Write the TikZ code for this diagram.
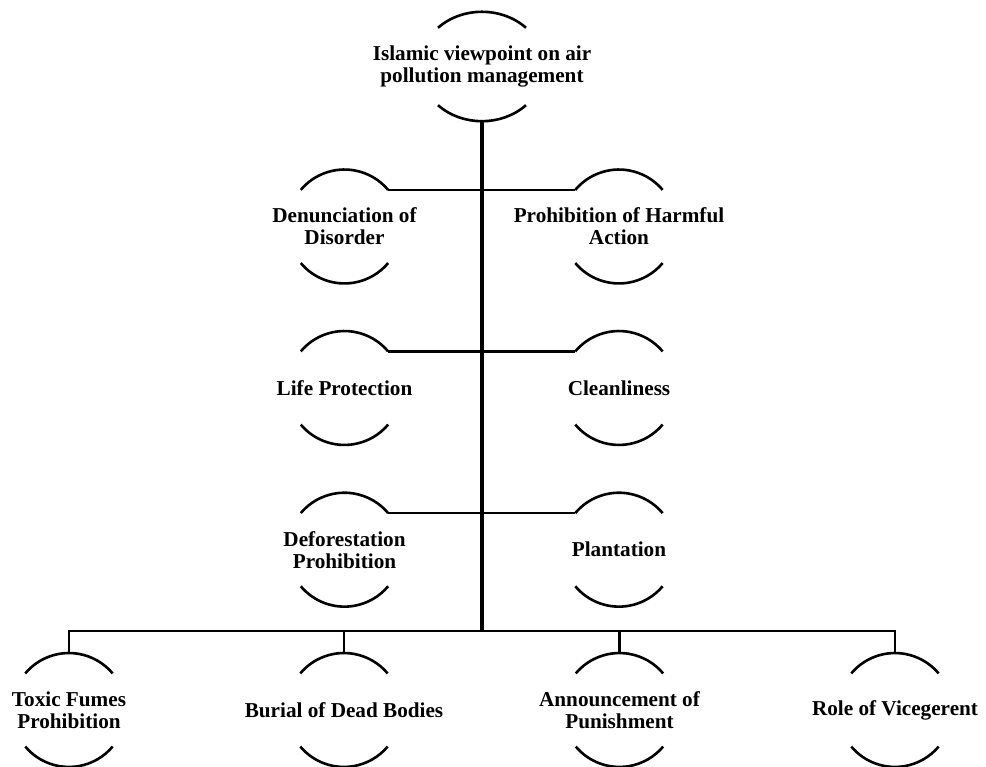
\documentclass[tikz,border=0pt]{standalone}
\usepackage{fontspec}
\setmainfont{Liberation Serif}
\begin{document}
\begin{tikzpicture}[x=1pt,y=1pt,
  lbl/.style={rectangle,minimum height=115pt,minimum width=115pt,inner sep=0pt,align=center,
    font=\fontsize{21.2}{22}\selectfont\bfseries},
  arcline/.style={line width=2.6pt},
  link/.style={line width=2.7pt},
  trunk/.style={line width=3.5pt}]
\useasboundingbox (0,0) rectangle (986,767);

% top node
\node[lbl] (top) at (482,700.5) {Islamic viewpoint on air\\pollution management};
% pairs
\node[lbl] (dd) at (344.5,540.5) {Denunciation of\\Disorder};
\node[lbl] (ph) at (619,540.5) {Prohibition of Harmful\\Action};
\node[lbl] (lp) at (344.5,379) {Life Protection};
\node[lbl] (cl) at (619,379) {Cleanliness};
\node[lbl] (df) at (344.5,217.3) {Deforestation\\Prohibition};
\node[lbl] (pl) at (619,217.3) {Plantation};
% bottom row
\node[lbl] (tf) at (69,57) {Toxic Fumes\\Prohibition};
\node[lbl] (bd) at (344,57) {Burial of Dead Bodies};
\node[lbl] (ap) at (619.5,57) {Announcement of\\Punishment};
\node[lbl] (rv) at (895,57) {Role of Vicegerent};

% arcs of the top node
\draw[arcline] ([shift={(-44pt,38.7pt)}]top.center) arc[start angle=135,end angle=45,x radius=62.2pt,y radius=54.7pt];
\draw[arcline] ([shift={(-44pt,-38.7pt)}]top.center) arc[start angle=225,end angle=315,x radius=62.2pt,y radius=54.7pt];

% arcs of the other nodes
\foreach \n in {dd,ph,lp,cl,df,pl,tf,bd,ap,rv}{
  \draw[arcline] ([shift={(-43.7pt,36.6pt)}]\n.center) arc[start angle=140,end angle=40,radius=57pt];
  \draw[arcline] ([shift={(-43.7pt,-36.6pt)}]\n.center) arc[start angle=220,end angle=320,radius=57pt];
}

% trunk
\coordinate (bus) at (482,136);
\draw[trunk] ([yshift=-54.7pt]top.center) -- (bus);

% pair connectors
\draw[link] ([shift={(43.7pt,36.6pt)}]dd.center) -- ([shift={(-43.7pt,36.6pt)}]ph.center);
\draw[link] ([shift={(43.7pt,36.6pt)}]lp.center) -- ([shift={(-43.7pt,36.6pt)}]cl.center);
\draw[link] ([shift={(43.7pt,36.6pt)}]df.center) -- ([shift={(-43.7pt,36.6pt)}]pl.center);

% bottom bus
\draw[link] (tf.north) -- (tf.north |- bus) -- (rv.north |- bus) -- (rv.north);
\draw[link] (bd.north) -- (bd.north |- bus);
\draw[link] (ap.north) -- (ap.north |- bus);
\end{tikzpicture}
\end{document}
